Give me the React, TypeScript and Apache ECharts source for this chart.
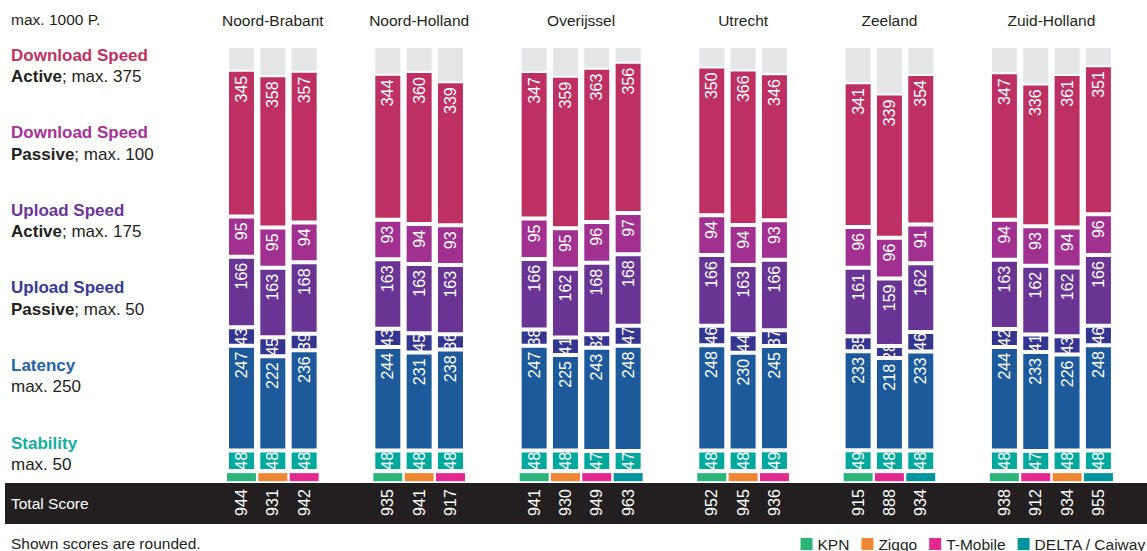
import React, { useEffect, useRef } from 'react';
import * as echarts from 'echarts';

const provinces = ['Noord-Brabant', 'Noord-Holland', 'Overijssel', 'Utrecht', 'Zeeland', 'Zuid-Holland'];
const operators = ['KPN', 'Ziggo', 'T-Mobile', 'DELTA / Caiway'];
const barOperators = [
  ['KPN', 'Ziggo', 'T-Mobile'],
  ['KPN', 'Ziggo', 'T-Mobile'],
  ['KPN', 'Ziggo', 'T-Mobile', 'DELTA / Caiway'],
  ['KPN', 'Ziggo', 'T-Mobile'],
  ['KPN', 'T-Mobile', 'DELTA / Caiway'],
  ['KPN', 'T-Mobile', 'Ziggo', 'DELTA / Caiway'],
];
const downloadActive = [[345, 358, 357], [344, 360, 339], [347, 359, 363, 356], [350, 366, 346], [341, 339, 354], [347, 336, 361, 351]];
const downloadPassive = [[95, 95, 94], [93, 94, 93], [95, 95, 96, 97], [94, 94, 93], [96, 96, 91], [94, 93, 94, 96]];
const uploadActive = [[166, 163, 168], [163, 163, 163], [166, 162, 168, 168], [166, 163, 166], [161, 159, 162], [163, 162, 162, 166]];
const uploadPassive = [[43, 45, 39], [43, 45, 36], [38, 41, 32, 47], [46, 44, 37], [35, 28, 46], [42, 41, 43, 46]];
const latency = [[247, 222, 236], [244, 231, 238], [247, 225, 243, 248], [248, 230, 245], [233, 218, 233], [244, 233, 226, 248]];
const stability = [[48, 48, 48], [48, 48, 48], [48, 48, 47, 47], [48, 48, 49], [49, 48, 48], [48, 47, 48, 48]];
const totalScore = [[944, 931, 942], [935, 941, 917], [941, 930, 949, 963], [952, 945, 936], [915, 888, 934], [938, 912, 934, 955]];
const maxTotal = 1000;

const criterionNames = ['Download Speed', 'Download Speed', 'Upload Speed', 'Upload Speed', 'Latency', 'Stability'];
const criterionModes = ['Active', 'Passive', 'Active', 'Passive', '', ''];
const criterionMax = [375, 100, 175, 50, 250, 50];

const FONT = '"Liberation Sans", Arial, Helvetica, sans-serif';
const FS = 15.5;
const FS_LEFT = 17;
const FS_NUM = 16;
const TEXT = '#231f20';
const GRAY = '#e5e6e8';
const segColors = ['#be3063', '#a13090', '#6a3494', '#33358f', '#1c5a9c', '#00a99d'];
const criterionColors = ['#c2305f', '#a5319a', '#6d3597', '#363a95', '#1f63a8', '#14ae9f'];
const opColors: Record<string, string> = {
  'KPN': '#2ab57a',
  'Ziggo': '#ee8632',
  'T-Mobile': '#e3298f',
  'DELTA / Caiway': '#00949e',
};

export default function App() {
  const ref = useRef<HTMLDivElement>(null);
  useEffect(() => {
    document.body.style.margin = '0';
    if (!ref.current) return;
    const chart = echarts.init(ref.current, undefined, { renderer: 'svg' });

    const pitch = 31.33;
    const groupGap = 52.33;
    const firstLeft = 225.83;
    const gridTop = 46;
    const gridBottom = 63;
    const barWidth = 29;
    const border = { borderColor: '#ffffff', borderWidth: 2 };

    const grids: any[] = [];
    const xAxes: any[] = [];
    const yAxes: any[] = [];
    const series: any[] = [];
    let idx0 = 0;

    const segData = [stability, latency, uploadPassive, uploadActive, downloadPassive, downloadActive];
    const segColorOrder = [segColors[5], segColors[4], segColors[3], segColors[2], segColors[1], segColors[0]];
    const segCentered = [true, false, true, false, false, false];

    provinces.forEach((prov, k) => {
      const n = barOperators[k].length;
      grids.push({
        left: firstLeft + idx0 * pitch + k * groupGap,
        width: n * pitch,
        top: gridTop,
        bottom: gridBottom,
        containLabel: false,
      });
      idx0 += n;
      xAxes.push({
        type: 'category',
        gridIndex: k,
        position: 'top',
        data: barOperators[k],
        axisLine: { show: false },
        axisTick: { show: false },
        axisLabel: { show: false },
        splitLine: { show: false },
        name: prov,
        nameLocation: 'middle',
        nameGap: 18,
        nameTextStyle: { fontSize: FS, color: TEXT, fontFamily: FONT },
      });
      yAxes.push({
        type: 'value',
        gridIndex: k,
        min: -40,
        max: maxTotal,
        show: false,
      });

      const common = {
        type: 'bar',
        xAxisIndex: k,
        yAxisIndex: k,
        barWidth,
        barGap: '-100%',
      };

      series.push({
        ...common,
        name: 'max',
        stack: 'bg' + k,
        z: 1,
        data: barOperators[k].map(() => maxTotal),
        itemStyle: { color: GRAY, ...border },
        silent: true,
      });

      segData.forEach((arr, s) => {
        series.push({
          ...common,
          name: 'seg' + s,
          stack: 'main' + k,
          z: segCentered[s] ? 4 : 2,
          data: arr[k],
          itemStyle: { color: segColorOrder[s], ...border },
          label: segCentered[s]
            ? {
                show: true, position: 'inside', rotate: 90, align: 'center', verticalAlign: 'middle',
                color: '#ffffff', fontSize: FS_NUM, fontFamily: FONT,
              }
            : {
                show: true, position: 'insideTop', distance: 6, rotate: 90, align: 'right', verticalAlign: 'middle',
                color: '#ffffff', fontSize: FS_NUM, fontFamily: FONT,
              },
        });
      });

      series.push({
        ...common,
        name: 'spacer',
        stack: 'main' + k,
        data: barOperators[k].map(() => -5),
        itemStyle: { color: 'rgba(0,0,0,0)', borderColor: 'rgba(0,0,0,0)', borderWidth: 2 },
        silent: true,
      });

      operators.forEach((op) => {
        series.push({
          ...common,
          name: op,
          stack: 'main' + k,
          z: 3,
          data: barOperators[k].map((o) => (o === op ? -19 : '-')),
          itemStyle: { color: opColors[op], borderColor: '#ffffff', borderWidth: 0 },
          label: {
            show: true,
            position: 'bottom',
            distance: 8,
            rotate: 90,
            align: 'right',
            verticalAlign: 'middle',
            color: '#ffffff',
            fontSize: FS_NUM,
            fontFamily: FONT,
            formatter: (p: any) => String(totalScore[k][p.dataIndex]),
          },
        });
      });
    });

    const graphics: any[] = [
      {
        type: 'rect',
        z: 0,
        shape: { x: 5, y: 483, width: 1142, height: 41 },
        style: { fill: '#231f20' },
      },
      {
        type: 'text',
        z: 10,
        x: 11,
        y: 503,
        style: { text: 'Total Score', fill: '#ffffff', fontSize: FS, fontFamily: FONT, verticalAlign: 'middle' },
      },
      {
        type: 'text',
        x: 11,
        y: 19,
        style: { text: 'max. ' + maxTotal + ' P.', fill: TEXT, fontSize: FS, fontFamily: FONT, verticalAlign: 'middle' },
      },
      {
        type: 'text',
        x: 11,
        y: 543,
        style: { text: 'Shown scores are rounded.', fill: TEXT, fontSize: FS, fontFamily: FONT, verticalAlign: 'middle' },
      },
    ];
    criterionNames.forEach((name, i) => {
      const y = 55 + i * 77.6;
      graphics.push({
        type: 'text',
        x: 11,
        y,
        style: {
          text: name, fill: criterionColors[i], fontSize: FS_LEFT, fontWeight: 'bold', fontFamily: FONT, verticalAlign: 'middle',
        },
      });
      const sub = criterionModes[i]
        ? '{b|' + criterionModes[i] + '}{r|; max. ' + criterionMax[i] + '}'
        : '{r|max. ' + criterionMax[i] + '}';
      graphics.push({
        type: 'text',
        x: 11,
        y: y + 21.5,
        style: {
          text: sub,
          fill: TEXT,
          fontSize: FS_LEFT,
          fontFamily: FONT,
          verticalAlign: 'middle',
          rich: {
            b: { fontWeight: 'bold', fontSize: FS_LEFT, fontFamily: FONT, fill: TEXT },
            r: { fontSize: FS_LEFT, fontFamily: FONT, fill: TEXT },
          },
        },
      });
    });

    chart.setOption({
      animation: false,
      grid: grids,
      xAxis: xAxes,
      yAxis: yAxes,
      series,
      graphic: graphics,
      legend: {
        data: operators,
        right: 1,
        top: 536,
        width: 420,
        itemWidth: 12,
        itemHeight: 12,
        itemGap: 12,
        icon: 'rect',
        selectedMode: false,
        padding: 0,
        textStyle: { fontSize: FS, color: TEXT, fontFamily: FONT },
      },
    });
    return () => chart.dispose();
  }, []);
  return <div ref={ref} style={{ width: 1147, height: 551 }} />;
}
